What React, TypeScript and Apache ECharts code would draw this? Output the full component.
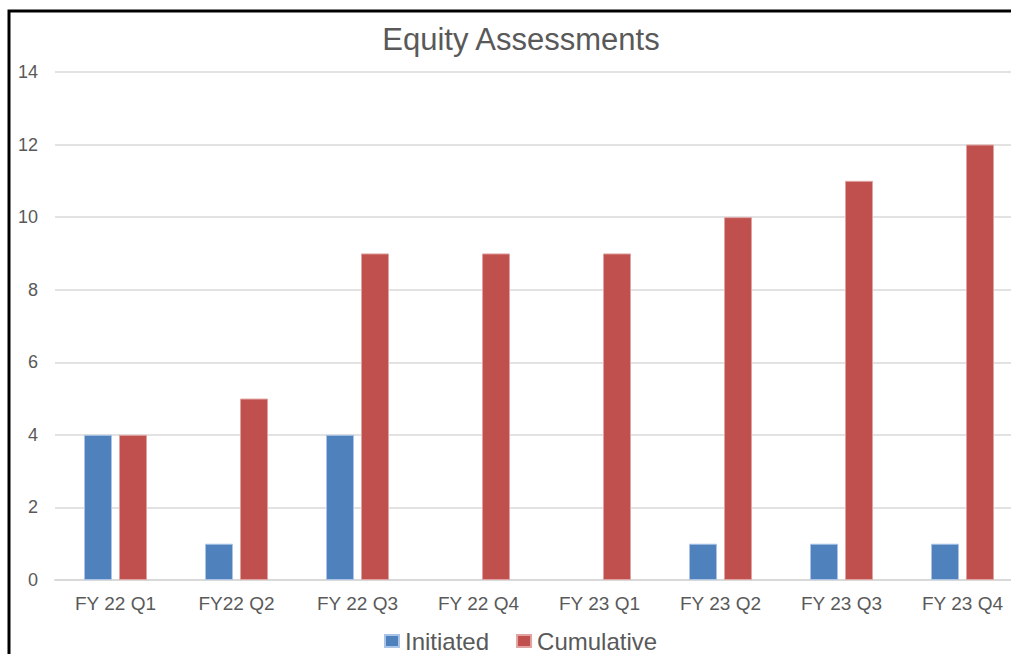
import React, { useEffect, useRef } from "react";
import * as echarts from "echarts";

const categories = ["FY 22 Q1", "FY22 Q2", "FY 22 Q3", "FY 22 Q4", "FY 23 Q1", "FY 23 Q2", "FY 23 Q3", "FY 23 Q4"];
const initiated = [4, 1, 4, null, null, 1, 1, 1];
const cumulative = [4, 5, 9, 9, 9, 10, 11, 12];

export default function App() {
  const ref = useRef<HTMLDivElement>(null);
  useEffect(() => {
    if (!ref.current) return;
    const chart = echarts.init(ref.current, undefined, { renderer: "svg" });
    const font = "Arial, 'Liberation Sans', sans-serif";
    chart.setOption({
      animation: false,
      backgroundColor: "#ffffff",
      title: {
        text: "Equity Assessments",
        left: 516,
        textAlign: "center",
        top: 19,
        textStyle: { fontFamily: font, fontSize: 31, fontWeight: "normal", color: "#595959" },
      },
      legend: {
        top: 624,
        left: 379,
        itemWidth: 14,
        itemHeight: 12,
        itemGap: 27,
        icon: "rect",
        textStyle: { fontFamily: font, fontSize: 24, color: "#595959", padding: [0, 0, 0, 1] },
        data: ["Initiated", "Cumulative"],
      },
      grid: { left: 55, right: 0, top: 72, bottom: 74, containLabel: false, outerBoundsMode: "none" },
      xAxis: {
        type: "category",
        data: categories,
        axisLine: { lineStyle: { color: "#d9d9d9", width: 2 } },
        axisTick: { show: false },
        axisLabel: { fontFamily: font, fontSize: 19, color: "#595959", margin: 14 },
      },
      yAxis: {
        type: "value",
        min: 0,
        max: 14,
        interval: 2,
        axisLine: { show: false },
        axisTick: { show: false },
        splitLine: { lineStyle: { color: "#e2e2e2", width: 2 } },
        axisLabel: { fontFamily: font, fontSize: 18, color: "#595959", margin: 17 },
      },
      graphic: [
        {
          type: "rect",
          shape: { x: 9, y: 11, width: 1200, height: 1000 },
          style: { fill: "none", stroke: "#000000", lineWidth: 3 },
          silent: true,
          z: 100,
        },
      ],
      series: [
        {
          name: "Initiated",
          type: "bar",
          data: initiated,
          barWidth: 28,
          barGap: "25%",
          itemStyle: { color: "#4f81bd", borderColor: "#a9c4e6", borderWidth: 1 },
        },
        {
          name: "Cumulative",
          type: "bar",
          data: cumulative,
          barWidth: 28,
          barGap: "25%",
          itemStyle: { color: "#c0504d", borderColor: "#e0a3a1", borderWidth: 1 },
        },
      ],
    });
    return () => chart.dispose();
  }, []);
  return (
    <div style={{ position: "fixed", left: 0, top: 0, width: 1011, height: 654, overflow: "hidden" }}>
      <div ref={ref} style={{ width: 1023, height: 654 }} />
    </div>
  );
}
